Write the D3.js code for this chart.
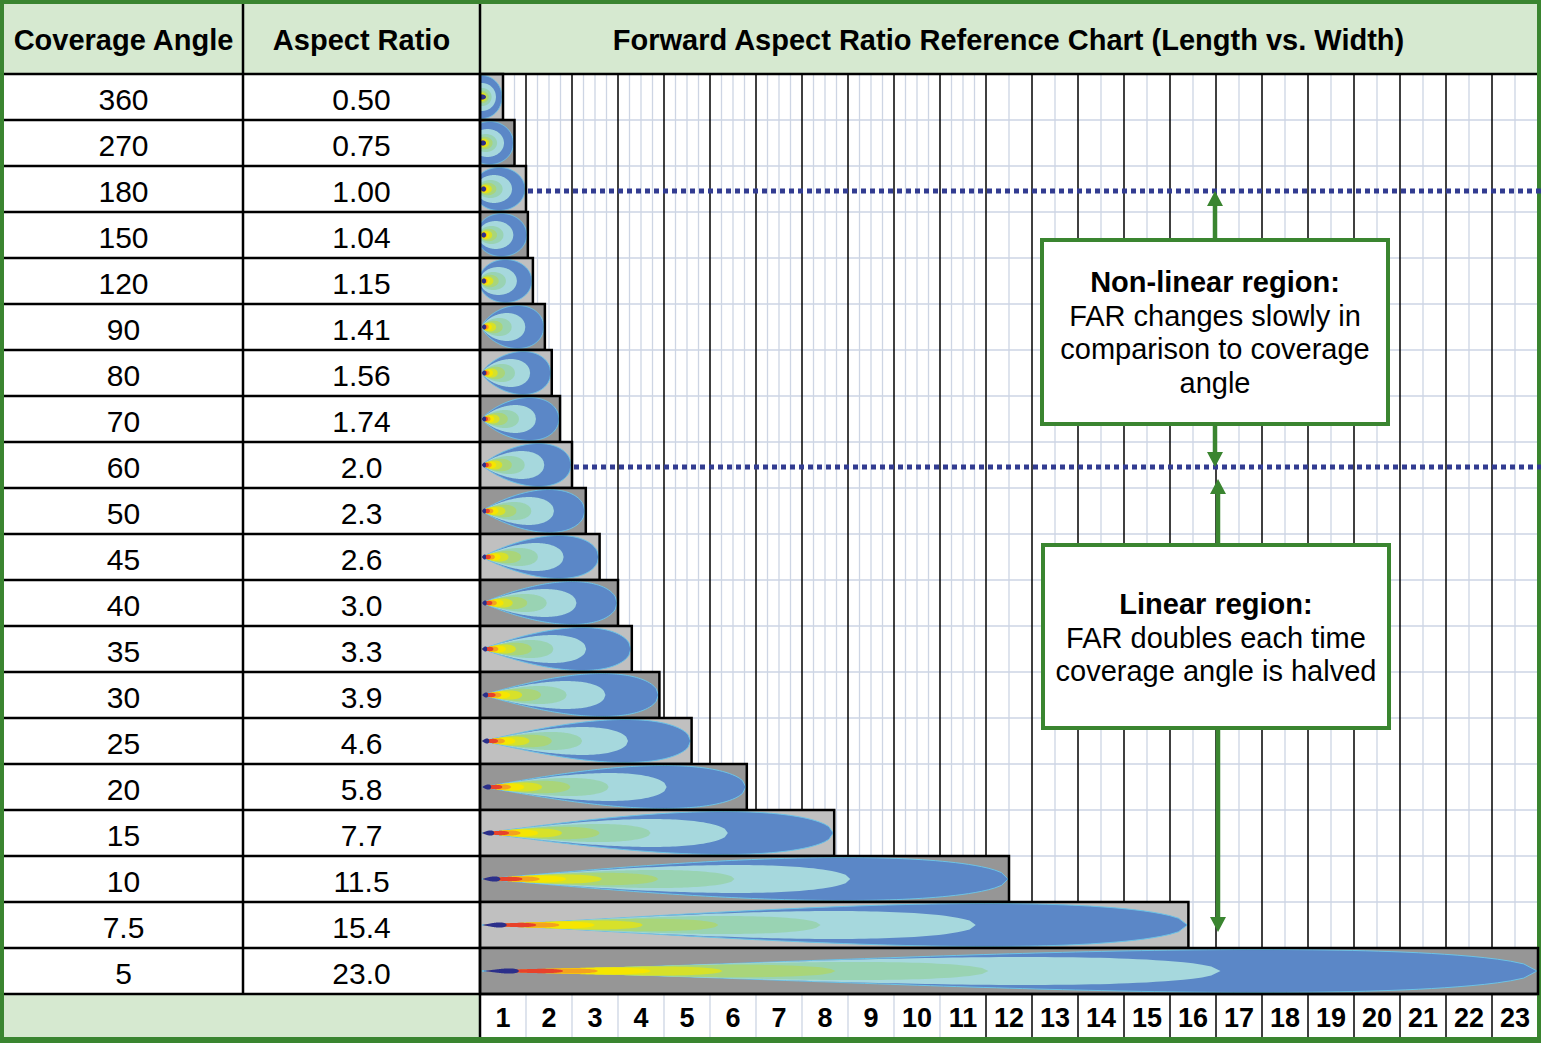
<!DOCTYPE html>
<html>
<head>
<meta charset="utf-8">
<style>
  body { margin: 0; background: #fff; }
  svg { display: block; font-family: "Liberation Sans", Arial, sans-serif; }
</style>
</head>
<body>
<svg width="1541" height="1043"></svg>
<script src="https://d3js.org/d3.v7.min.js"></script>
<script>
  // table data
  var angleLabels = ["360", "270", "180", "150", "120", "90", "80", "70", "60", "50",
                     "45", "40", "35", "30", "25", "20", "15", "10", "7.5", "5"];
  var angleValues = [360, 270, 180, 150, 120, 90, 80, 70, 60, 50,
                     45, 40, 35, 30, 25, 20, 15, 10, 7.5, 5];
  var ratioLabels = ["0.50", "0.75", "1.00", "1.04", "1.15", "1.41", "1.56", "1.74", "2.0", "2.3",
                     "2.6", "3.0", "3.3", "3.9", "4.6", "5.8", "7.7", "11.5", "15.4", "23.0"];
  var ratioValues = [0.50, 0.75, 1.00, 1.04, 1.15, 1.41, 1.56, 1.74, 2.0, 2.3,
                     2.6, 3.0, 3.3, 3.9, 4.6, 5.8, 7.7, 11.5, 15.4, 23.0];
  var xTickLabels = [1, 2, 3, 4, 5, 6, 7, 8, 9, 10, 11, 12, 13, 14, 15, 16, 17, 18, 19, 20, 21, 22, 23];

  // plume contour bands, outside -> inside
  var bandColors = ["#5b87c7", "#a6d8dd", "#99d3b3", "#a9d57a", "#d7e12a", "#f6e600", "#f4a21e", "#e8412a", "#2b2f8a"];
  var bandLength = [1, 0.70, 0.48, 0.335, 0.228, 0.16, 0.11, 0.077, 0.035];
  var bandWidth  = [1, 0.65, 0.42, 0.29, 0.21, 0.16, 0.12, 0.10, 0.12];

  var green = "#3a8530",
      headFill = "#d6e9d0",
      gridLight = "#cdd5e4";

  var svg = d3.select("svg"),
      W = +svg.attr("width"),
      H = +svg.attr("height");

  var col1 = 4, col2 = 243, chartLeft = 480, chartRight = 1537,
      headTop = 4, headBottom = 74, rowsBottom = 994, bottom = 1037;

  var x = d3.scaleLinear().domain([0, 23]).range([chartLeft, chartLeft + 23 * 46]);
  var y = d3.scaleBand().domain(angleLabels).range([headBottom, rowsBottom]);
  var rh = y.bandwidth();

  // outer green frame
  svg.append("rect").attr("width", W).attr("height", H).attr("fill", green);
  svg.append("rect").attr("x", col1).attr("y", headTop)
      .attr("width", chartRight - col1).attr("height", bottom - headTop).attr("fill", "#fff");

  // header + bottom-left cell
  svg.append("rect").attr("x", col1).attr("y", headTop)
      .attr("width", chartRight - col1).attr("height", headBottom - headTop).attr("fill", headFill);
  svg.append("rect").attr("x", col1).attr("y", rowsBottom)
      .attr("width", chartLeft - col1).attr("height", bottom - rowsBottom).attr("fill", headFill);

  // grid in chart area: quarter lines up to 11, half lines after
  var grid = svg.append("g");
  var minor = d3.range(0, 23.01, 0.25).filter(function(v) {
    return v % 1 !== 0 && (v < 11 || v % 0.5 === 0);
  });
  grid.selectAll(".minor").data(minor).enter().append("line")
      .attr("x1", function(d) { return x(d); }).attr("x2", function(d) { return x(d); })
      .attr("y1", headBottom).attr("y2", rowsBottom)
      .attr("stroke", gridLight).attr("stroke-width", 1.3);
  grid.selectAll(".hrow").data(angleLabels.slice(1)).enter().append("line")
      .attr("x1", chartLeft).attr("x2", chartRight)
      .attr("y1", function(d) { return y(d); }).attr("y2", function(d) { return y(d); })
      .attr("stroke", gridLight).attr("stroke-width", 1.3);
  grid.selectAll(".major").data(xTickLabels.slice(0, 22)).enter().append("line")
      .attr("x1", function(d) { return x(d); }).attr("x2", function(d) { return x(d); })
      .attr("y1", headBottom).attr("y2", rowsBottom)
      .attr("stroke", "#000").attr("stroke-width", 1.5);
  grid.selectAll(".axmajor").data(xTickLabels.slice(0, 22)).enter().append("line")
      .attr("x1", function(d) { return x(d); }).attr("x2", function(d) { return x(d); })
      .attr("y1", rowsBottom).attr("y2", bottom)
      .attr("stroke", function(d) { return d >= 11 ? "#000" : gridLight; })
      .attr("stroke-width", function(d) { return d >= 11 ? 1.5 : 1.3; });

  // plume outline for one band
  function plumePath(x0, cy, len, hw, s, p) {
    var a = len / (1 + 2 * s),
        c = x0 + len - a,
        n = 80, norm = 0, i, u, v;
    for (i = 0; i <= 400; i++) {
      u = -1 + 2 * i / 400;
      v = Math.sqrt(1 - u * u) * Math.pow((1 + u) / 2, p);
      if (v > norm) norm = v;
    }
    var top = [], bot = [];
    for (i = 0; i <= n; i++) {
      u = -1 + 2 * i / n;
      v = hw * Math.sqrt(Math.max(0, 1 - u * u)) * Math.pow((1 + u) / 2, p) / norm;
      top.push([c + a * u, cy - v]);
      bot.push([c + a * u, cy + v]);
    }
    return d3.line()(top.concat(bot.reverse())) + "Z";
  }

  var rows = angleLabels.map(function(lab, i) {
    return { label: lab, angle: angleValues[i], ratio: ratioValues[i], ratioLabel: ratioLabels[i], i: i };
  });

  var defs = svg.append("defs");
  defs.selectAll("clipPath").data(rows).enter().append("clipPath")
      .attr("id", function(d) { return "clip" + d.i; })
    .append("rect")
      .attr("x", chartLeft).attr("y", function(d) { return y(d.label); })
      .attr("width", function(d) { return x(d.ratio) - chartLeft; }).attr("height", rh);

  var bars = svg.append("g").selectAll("g").data(rows).enter().append("g");

  bars.append("rect")
      .attr("x", chartLeft).attr("y", function(d) { return y(d.label); })
      .attr("width", function(d) { return x(d.ratio) - chartLeft; }).attr("height", rh)
      .attr("fill", function(d) { return d.i % 2 ? "#969696" : "#c0c0c0"; });

  bars.each(function(d) {
    var g = d3.select(this).append("g").attr("clip-path", "url(#clip" + d.i + ")");
    var x0 = chartLeft + 2,
        cy = y(d.label) + rh / 2,
        len = x(d.ratio) - x0 - 1,
        hw = rh / 2 - 1.5,
        s = 0.5 * Math.min(1, Math.max(0, (360 - d.angle) / 270)),
        p = d.angle < 10 ? 0.6 + (10 - d.angle) * 0.06
                         : Math.min(0.6, Math.max(0, (120 - d.angle) / 160));
    bandColors.forEach(function(col, k) {
      var last = k === bandColors.length - 1,
          l = Math.max(last ? 4 : 2, len * bandLength[k]),
          w = Math.max(last ? 2.5 : 1.5, hw * bandWidth[k]);
      g.append("path")
          .attr("d", plumePath(x0, cy, l, w, s, p))
          .attr("fill", col)
          .attr("stroke", k === 0 ? "#6cc3e6" : "none")
          .attr("stroke-width", 1);
    });
  });

  bars.append("rect")
      .attr("x", chartLeft).attr("y", function(d) { return y(d.label); })
      .attr("width", function(d) { return x(d.ratio) - chartLeft; }).attr("height", rh)
      .attr("fill", "none").attr("stroke", "#000").attr("stroke-width", 2.5);

  // table lines
  var lines = svg.append("g").attr("stroke", "#000").attr("stroke-width", 2.5);
  lines.selectAll(".rl").data(angleLabels.slice(1)).enter().append("line")
      .attr("x1", col1).attr("x2", chartLeft)
      .attr("y1", function(d) { return y(d); }).attr("y2", function(d) { return y(d); });
  lines.append("line").attr("x1", col1).attr("x2", chartRight).attr("y1", headBottom).attr("y2", headBottom);
  lines.append("line").attr("x1", col1).attr("x2", chartRight).attr("y1", rowsBottom).attr("y2", rowsBottom);
  lines.append("line").attr("x1", col2).attr("x2", col2).attr("y1", headTop).attr("y2", rowsBottom);
  lines.append("line").attr("x1", chartLeft).attr("x2", chartLeft).attr("y1", headTop).attr("y2", bottom);

  // header text
  var head = svg.append("g").attr("font-weight", "bold").attr("font-size", 29)
      .attr("text-anchor", "middle").attr("fill", "#000");
  head.append("text").attr("x", (col1 + col2) / 2).attr("y", 50).text("Coverage Angle");
  head.append("text").attr("x", (col2 + chartLeft) / 2).attr("y", 50).text("Aspect Ratio");
  head.append("text").attr("x", (chartLeft + chartRight) / 2).attr("y", 50)
      .text("Forward Aspect Ratio Reference Chart (Length vs. Width)");

  // table values
  var cells = svg.append("g").attr("font-size", 30).attr("text-anchor", "middle").attr("fill", "#000");
  cells.selectAll(".a").data(rows).enter().append("text")
      .attr("x", (col1 + col2) / 2).attr("y", function(d) { return y(d.label) + 36; })
      .text(function(d) { return d.label; });
  cells.selectAll(".r").data(rows).enter().append("text")
      .attr("x", (col2 + chartLeft) / 2).attr("y", function(d) { return y(d.label) + 36; })
      .text(function(d) { return d.ratioLabel; });

  // x axis labels
  svg.append("g").attr("font-size", 27).attr("font-weight", "bold").attr("text-anchor", "middle")
    .selectAll("text").data(xTickLabels).enter().append("text")
      .attr("x", function(d) { return x(d - 0.5); }).attr("y", 1027)
      .text(function(d) { return d; });

  // dotted reference lines at 180 and 60 degrees
  var refs = [{ label: "180", ratio: 1.00 }, { label: "60", ratio: 2.0 }];
  svg.append("g").selectAll("line").data(refs).enter().append("line")
      .attr("x1", function(d) { return x(d.ratio) + 2; }).attr("x2", W)
      .attr("y1", function(d) { return y(d.label) + rh / 2 + 2; })
      .attr("y2", function(d) { return y(d.label) + rh / 2 + 2; })
      .attr("stroke", "#323c91").attr("stroke-width", 5).attr("stroke-dasharray", "5,4");

  // annotations
  function arrow(ax, yFrom, yTip) {
    var dir = yTip < yFrom ? -1 : 1,
        headLen = 15;
    svg.append("line").attr("x1", ax).attr("x2", ax)
        .attr("y1", yFrom).attr("y2", yTip - dir * headLen)
        .attr("stroke", green).attr("stroke-width", 4.5);
    svg.append("path")
        .attr("d", "M" + (ax - 8) + "," + (yTip - dir * headLen) + "L" + (ax + 8) + "," + (yTip - dir * headLen) + "L" + ax + "," + yTip + "Z")
        .attr("fill", green);
  }

  function box(bx, by, bw, bh, title, body, firstBase) {
    svg.append("rect").attr("x", bx).attr("y", by).attr("width", bw).attr("height", bh)
        .attr("fill", "#fff").attr("stroke", green).attr("stroke-width", 4);
    var t = svg.append("g").attr("font-size", 29).attr("text-anchor", "middle").attr("fill", "#000");
    t.append("text").attr("x", bx + bw / 2).attr("y", firstBase).attr("font-weight", "bold").text(title);
    body.forEach(function(line, i) {
      t.append("text").attr("x", bx + bw / 2).attr("y", firstBase + 33.5 * (i + 1)).text(line);
    });
  }

  var yTop = y("180") + rh / 2 + 2,
      yMid = y("60") + rh / 2 + 2;
  arrow(1215, 239, yTop);
  arrow(1215, 424, yMid);
  arrow(1218, 544, yMid + 12);
  arrow(1218, 728, y("7.5") + rh / 2 + 7);

  box(1042, 240, 346, 184, "Non-linear region:",
      ["FAR changes slowly in", "comparison to coverage", "angle"], 292);
  box(1043, 545, 346, 183, "Linear region:",
      ["FAR doubles each time", "coverage angle is halved"], 614);
</script>
</body>
</html>
